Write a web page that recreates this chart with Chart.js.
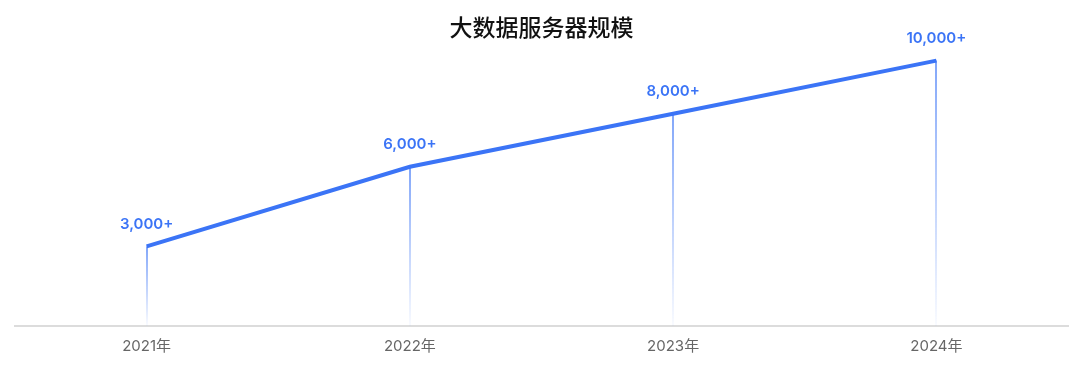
<!DOCTYPE html>
<html>
<head>
<meta charset="utf-8">
<script src="https://cdn.jsdelivr.net/npm/chart.js@4/dist/chart.umd.min.js"></script>
<style>
html,body{margin:0;padding:0;background:#fff;}
#wrap{width:1080px;height:374px;}
</style>
</head>
<body>
<div id="wrap"><canvas id="c" width="1080" height="374"></canvas></div>
<script>
const categories = ['2021年', '2022年', '2023年', '2024年'];
const serverCounts = [3000, 6000, 8000, 10000];
const valueLabels = ['3,000+', '6,000+', '8,000+', '10,000+'];
const chartTitle = '大数据服务器规模';

const BLUE = '#3b74f6';
const CJK = '"Noto Sans CJK SC", "Noto Sans", sans-serif';
const LAT = 'Inter, "Noto Sans CJK SC", sans-serif';

const dropAndLabels = {
  id: 'dropAndLabels',
  beforeDatasetsDraw(chart) {
    const ctx = chart.ctx;
    const meta = chart.getDatasetMeta(0);
    const bottom = chart.chartArea.bottom;
    ctx.save();
    meta.data.forEach(pt => {
      const g = ctx.createLinearGradient(0, pt.y, 0, bottom);
      g.addColorStop(0, 'rgba(59,116,246,0.85)');
      g.addColorStop(1, 'rgba(59,116,246,0.04)');
      ctx.strokeStyle = g;
      ctx.lineWidth = 1.5;
      ctx.beginPath();
      ctx.moveTo(Math.round(pt.x), pt.y);
      ctx.lineTo(Math.round(pt.x), bottom);
      ctx.stroke();
    });
    ctx.restore();
  },
  afterDatasetsDraw(chart) {
    const ctx = chart.ctx;
    const meta = chart.getDatasetMeta(0);
    ctx.save();
    ctx.fillStyle = BLUE;
    ctx.font = '600 15px ' + LAT;
    ctx.textAlign = 'center';
    ctx.textBaseline = 'middle';
    meta.data.forEach((pt, i) => {
      ctx.fillText(valueLabels[i], pt.x, pt.y - 22);
    });
    ctx.restore();
  }
};

new Chart(document.getElementById('c'), {
  type: 'line',
  data: {
    labels: categories,
    datasets: [{
      data: serverCounts,
      borderColor: BLUE,
      borderWidth: 4,
      pointRadius: 0,
      pointHoverRadius: 0,
      tension: 0,
      clip: false,
      fill: false
    }]
  },
  options: {
    responsive: false,
    animation: false,
    devicePixelRatio: 1,
    layout: { padding: { left: 15, right: 12, top: 0, bottom: 8 } },
    plugins: {
      legend: { display: false },
      tooltip: { enabled: false },
      title: {
        display: true,
        text: chartTitle,
        color: '#111',
        font: { family: CJK, size: 23, weight: '500', lineHeight: 1.2 },
        padding: { top: 13, bottom: 20 }
      }
    },
    scales: {
      x: {
        offset: true,
        grid: { display: false, drawTicks: false },
        border: { display: true, color: '#dcdcdc', width: 2 },
        ticks: {
          color: '#666',
          font: { family: LAT, size: 15 },
          padding: 11
        }
      },
      y: {
        display: false,
        min: 0,
        max: 10000
      }
    }
  },
  plugins: [dropAndLabels]
});
</script>
</body>
</html>
